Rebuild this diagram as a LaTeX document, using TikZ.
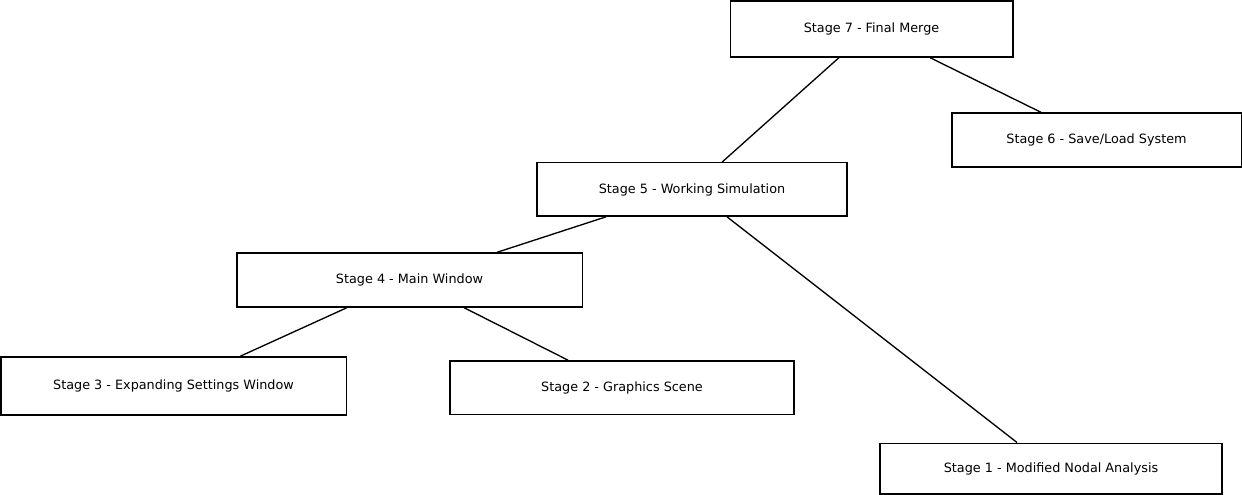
\documentclass[tikz,border=0pt]{standalone}
\usepackage{fontspec}
\setmainfont{DejaVu Sans}
\usetikzlibrary{positioning}
\tikzset{>=latex}
\tikzset{stagebox/.style={draw, line width=1pt, inner sep=0pt, font=\fontsize{9.6}{11}\selectfont}}

\begin{document}
\begin{tikzpicture}[x=0.75pt,y=-0.75pt,line width=1pt]
      \useasboundingbox (0,0) rectangle (1242,495);
      \node[stagebox, minimum width=212pt, minimum height=42pt] (s7) at (871.5,29) {Stage 7 - Final Merge};
      \node[stagebox, minimum width=217pt, minimum height=40.5pt] (s6) at (1096.5,140) {Stage 6 - Save/Load System};
      \node[stagebox, minimum width=232.5pt, minimum height=40pt] (s5) at (692,189.5) {Stage 5 - Working Simulation};
      \node[stagebox, minimum width=259pt, minimum height=40.5pt] (s4) at (409.5,280) {Stage 4 - Main Window};
      \node[stagebox, minimum width=259pt, minimum height=43.5pt] (s3) at (173.5,386) {Stage 3 - Expanding Settings Window};
      \node[stagebox, minimum width=258pt, minimum height=40pt] (s2) at (622,387.5) {Stage 2 - Graphics Scene};
      \node[stagebox, minimum width=256.5pt, minimum height=38pt] (s1) at (1051,468.5) {Stage 1 - Modified Nodal Analysis};
      \draw ([xshift=-24.4pt]s7.south) -- ([xshift=22.5pt]s5.north);
      \draw ([xshift=43.9pt]s7.south) -- ([xshift=-41.6pt]s6.north);
      \draw ([xshift=-64.5pt]s5.south) -- ([xshift=65.6pt]s4.north);
      \draw ([xshift=26.25pt]s5.south) -- ([xshift=-25.5pt]s1.north);
      \draw ([xshift=-46.9pt]s4.south) -- ([xshift=49.9pt]s3.north);
      \draw ([xshift=40.9pt]s4.south) -- ([xshift=-40.5pt]s2.north);
    \end{tikzpicture}
\end{document}
